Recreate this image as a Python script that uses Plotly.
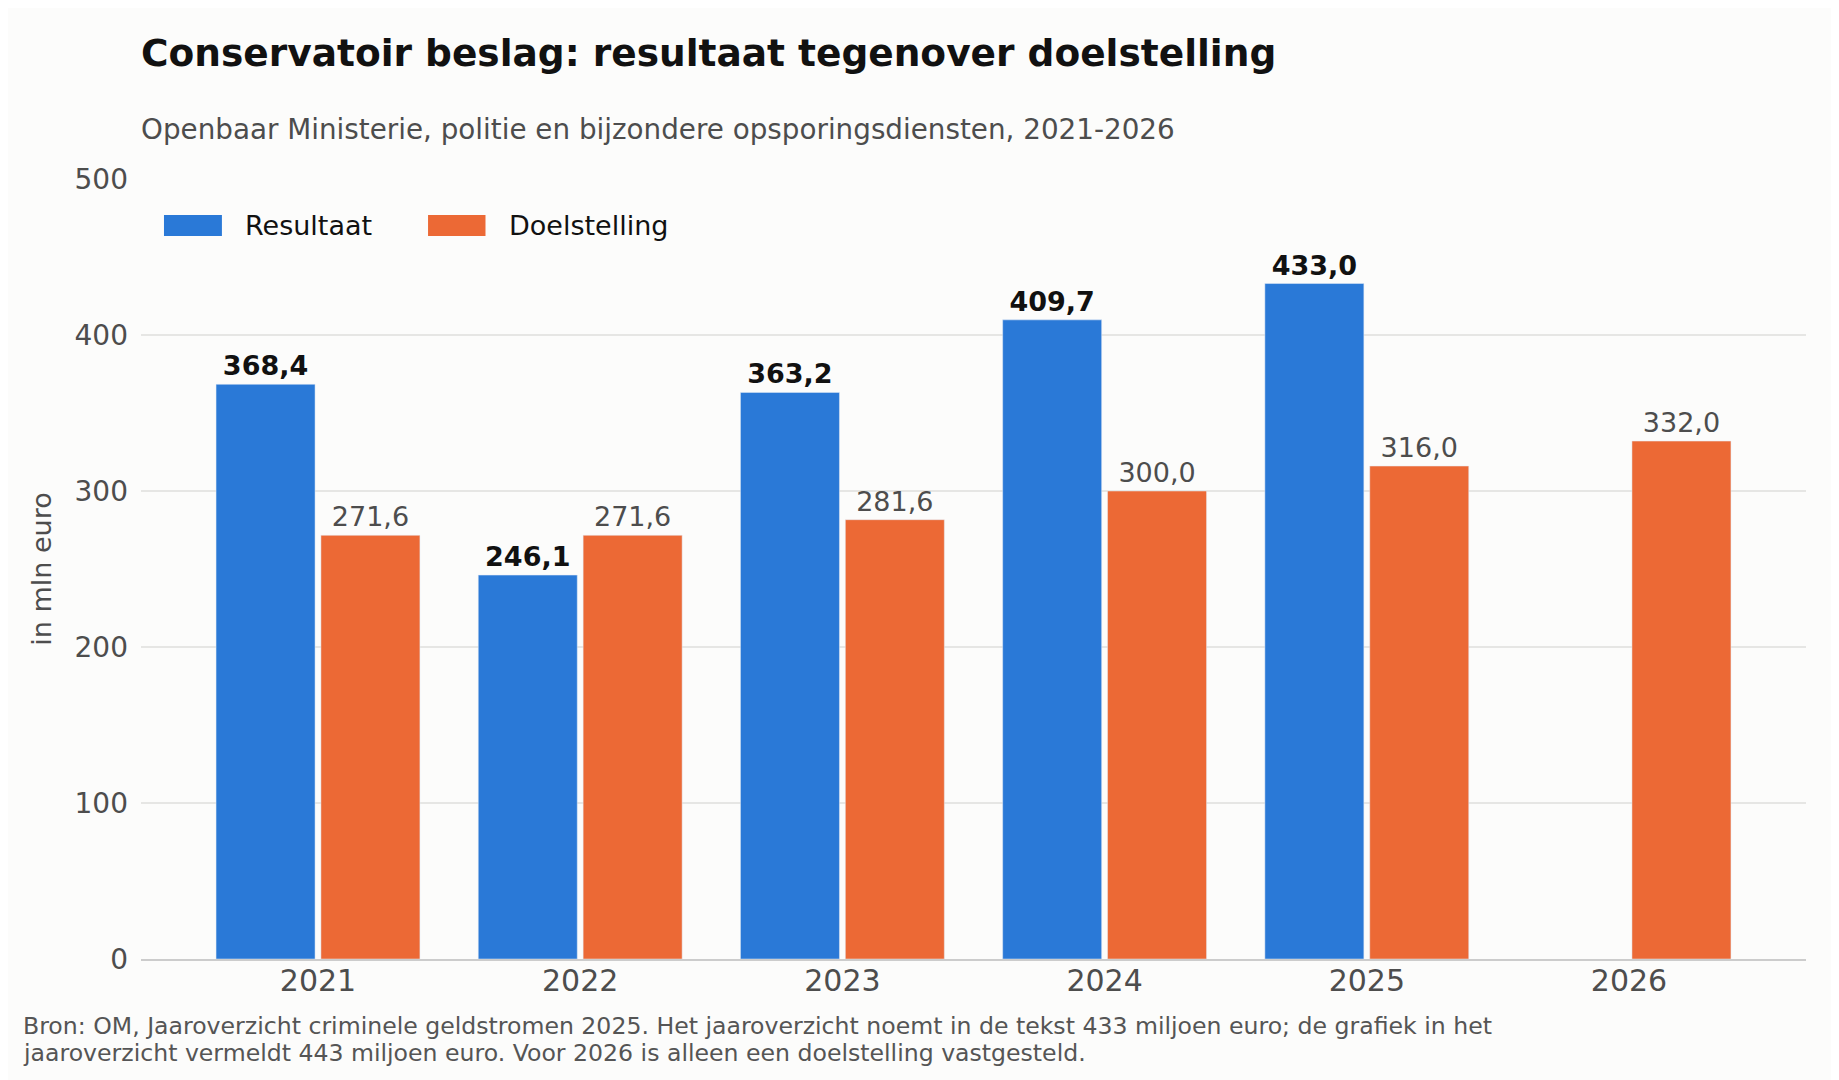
import plotly.graph_objects as go

# --- data ---
years = ["2021", "2022", "2023", "2024", "2025", "2026"]
resultaat = [368.4, 246.1, 363.2, 409.7, 433.0, None]
doelstelling = [271.6, 271.6, 281.6, 300.0, 316.0, 332.0]
y_ticks = [0, 100, 200, 300, 400, 500]

BLUE = "#2A79D7"
ORANGE = "#EC6935"
BG = "#FCFCFB"
GREY = "#4D4D4D"
FONT = "DejaVu Sans"

# page body has an 8px margin, so the figure is drawn 8px smaller
W, H = 1839 - 8, 1080 - 8

fig = go.Figure()
fig.add_trace(go.Bar(
    x=years, y=resultaat, name="Resultaat", marker_color=BLUE,
    texttemplate="%{y:.1f}", textposition="outside", cliponaxis=False,
    textfont=dict(family=FONT, size=27, color="#111111", weight="bold"),
    showlegend=False,
))
fig.add_trace(go.Bar(
    x=years, y=doelstelling, name="Doelstelling", marker_color=ORANGE,
    texttemplate="%{y:.1f}", textposition="outside", cliponaxis=False,
    textfont=dict(family=FONT, size=27, color=GREY),
    showlegend=False,
))

# custom legend (wide swatches)
legend_items = [("Resultaat", BLUE, 0.0138, 0.0486, 0.0612),
                ("Doelstelling", ORANGE, 0.1724, 0.2069, 0.2196)]
for label, col, x0, x1, xt in legend_items:
    fig.add_shape(type="rect", xref="paper", yref="paper", x0=x0, x1=x1,
                  y0=0.927, y1=0.954, fillcolor=col, line_width=0)
    fig.add_annotation(text=label, xref="paper", yref="paper", x=xt, y=0.941,
                       xanchor="left", yanchor="middle", showarrow=False,
                       font=dict(family=FONT, size=27, color="#111111"))

fig.add_annotation(
    text="Openbaar Ministerie, politie en bijzondere opsporingsdiensten, 2021-2026",
    xref="paper", yref="paper", x=-0.0015, y=1.064, xanchor="left", yanchor="middle",
    showarrow=False, font=dict(family=FONT, size=27.8, color=GREY))

footer = ["Bron: OM, Jaaroverzicht criminele geldstromen 2025. Het jaaroverzicht noemt in de tekst 433 miljoen euro; de grafiek in het",
          "jaaroverzicht vermeldt 443 miljoen euro. Voor 2026 is alleen een doelstelling vastgesteld."]
for line, yy in zip(footer, [-0.0859, -0.1205]):
    fig.add_annotation(text=line, xref="paper", yref="paper", x=-0.0723, y=yy,
                       xanchor="left", yanchor="middle", showarrow=False,
                       font=dict(family=FONT, size=23.6, color="#555555"))

fig.update_layout(
    width=W, height=H,
    title=dict(text="<b>Conservatoir beslag: resultaat tegenover doelstelling</b>",
               x=133 / W, xanchor="left", xref="container",
               y=1 - 45 / H, yanchor="middle", yref="container",
               font=dict(family=FONT, size=37.5, color="#111111")),
    margin=dict(l=133, r=33, t=171, b=121),
    paper_bgcolor=BG, plot_bgcolor=BG,
    barmode="group", bargap=0.2, bargroupgap=0.056,
    separators=",.",
    font=dict(family=FONT, color=GREY),
    xaxis=dict(type="category", range=[-0.675, 5.675], showgrid=False,
               showline=True, linecolor="#CCCCCC", linewidth=1.5,
               tickfont=dict(family=FONT, size=30, color=GREY), ticks="",
               ticklabelstandoff=-6),
    yaxis=dict(range=[0, 500], tickvals=y_ticks, showgrid=True,
               gridcolor="#E6E6E4", gridwidth=1.5, zeroline=False,
               tickfont=dict(family=FONT, size=28, color=GREY),
               title=dict(text="in mln euro", font=dict(family=FONT, size=27, color=GREY)),
               ticklabelstandoff=12),
)

fig.write_html("out.html")
